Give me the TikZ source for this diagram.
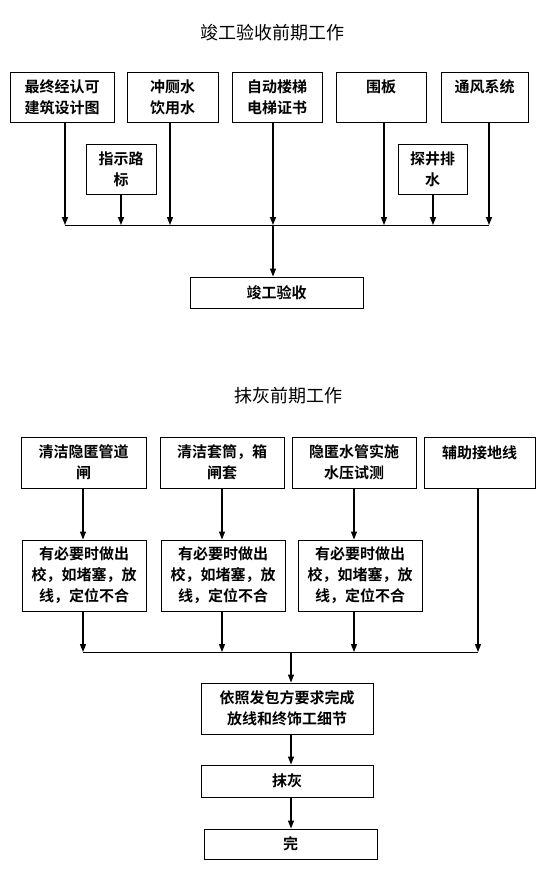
\documentclass[tikz,border=0pt]{standalone}
\usepackage{fontspec}
\newfontfamily\cjk{Noto Sans CJK SC}
\newfontfamily\cjkb{Noto Sans CJK SC Bold}
\usetikzlibrary{arrows.meta}
\begin{document}
\begin{tikzpicture}[x=1pt,y=-1pt,
  box/.style={draw, line width=0.9pt, inner sep=0pt, align=center,
    font=\cjkb\fontsize{15}{21}\selectfont},
  ttl/.style={font=\cjk\fontsize{18}{22}\selectfont, inner sep=0pt},
  arr/.style={line width=1.2pt, -{Triangle[length=8pt,width=6pt]}},
  busline/.style={line width=0.9pt}]
\useasboundingbox (0,0) rectangle (554,871);

% ---------- section 1 ----------
\node[ttl] (T1) at (272,33) {竣工验收前期工作};

\node[box, minimum width=104, minimum height=50] (B1) at (62,97) {最终经认可\\建筑设计图};
\node[box, minimum width=91, minimum height=50] (B2) at (172.5,97) {冲厕水\\饮用水};
\node[box, minimum width=90, minimum height=50] (B3) at (277,97) {自动楼梯\\电梯证书};
\node[box, minimum width=90, minimum height=50] (B4) at (381,97) {围板\\~};
\node[box, minimum width=87, minimum height=50] (B5) at (484.5,97) {通风系统\\~};
\node[box, minimum width=70, minimum height=50] (C1) at (121,169) {指示路\\标};
\node[box, minimum width=69, minimum height=50] (C2) at (432.5,169) {探井排\\水};
\node[box, minimum width=173, minimum height=31] (D) at (276.5,292.5) {竣工验收};

\coordinate (s1) at (65,225);
\coordinate (s2) at (121,225);
\coordinate (s3) at (170,225);
\coordinate (s4) at (273,225);
\coordinate (s5) at (384,225);
\coordinate (s6) at (433,225);
\coordinate (s7) at (489,225);

\draw[busline] (s1) -- (s7);
\draw[arr] (B1.south -| s1) -- (s1);
\draw[arr] (C1.south -| s2) -- (s2);
\draw[arr] (B2.south -| s3) -- (s3);
\draw[arr] (B3.south -| s4) -- (s4);
\draw[arr] (B4.south -| s5) -- (s5);
\draw[arr] (C2.south -| s6) -- (s6);
\draw[arr] (B5.south -| s7) -- (s7);
\draw[arr] (s4) -- (s4 |- D.north);

% ---------- section 2 ----------
\node[ttl] (T2) at (288,396) {抹灰前期工作};

\node[box, minimum width=125, minimum height=51] (E1) at (83.5,462.5) {清洁隐匿管道\\闸};
\node[box, minimum width=124, minimum height=51] (E2) at (222,462.5) {清洁套筒，箱\\闸套};
\node[box, minimum width=124, minimum height=51] (E3) at (354,462.5) {隐匿水管实施\\水压试测};
\node[box, minimum width=111, minimum height=51] (E4) at (479.5,462.5) {辅助接地线\\~};

\node[box, minimum width=124, minimum height=71] (F1) at (84,575.5) {有必要时做出\\校，如堵塞，放\\线，定位不合};
\node[box, minimum width=124, minimum height=71] (F2) at (223,575.5) {有必要时做出\\校，如堵塞，放\\线，定位不合};
\node[box, minimum width=124, minimum height=71] (F3) at (360,575.5) {有必要时做出\\校，如堵塞，放\\线，定位不合};

\node[box, minimum width=172, minimum height=51] (G) at (287,708.5) {依照发包方要求完成\\放线和终饰工细节};
\node[box, minimum width=172, minimum height=32] (H) at (287,781) {抹灰};
\node[box, minimum width=173, minimum height=30] (I) at (290.5,844) {完};

\coordinate (u1) at (83,652);
\coordinate (u2) at (222,652);
\coordinate (u3) at (354,652);
\coordinate (u4) at (478,652);
\coordinate (u5) at (291,652);

\draw[busline] (u1) -- (u4);
\draw[arr] (E1.south -| u1) -- (F1.north -| u1);
\draw[arr] (E2.south -| u2) -- (F2.north -| u2);
\draw[arr] (E3.south -| u3) -- (F3.north -| u3);
\draw[arr] (F1.south -| u1) -- (u1);
\draw[arr] (F2.south -| u2) -- (u2);
\draw[arr] (F3.south -| u3) -- (u3);
\draw[arr] (E4.south -| u4) -- (u4);
\draw[arr] (u5) -- (G.north -| u5);
\draw[arr] (G.south -| u5) -- (H.north -| u5);
\draw[arr] (H.south -| u5) -- (I.north -| u5);
\end{tikzpicture}
\end{document}
